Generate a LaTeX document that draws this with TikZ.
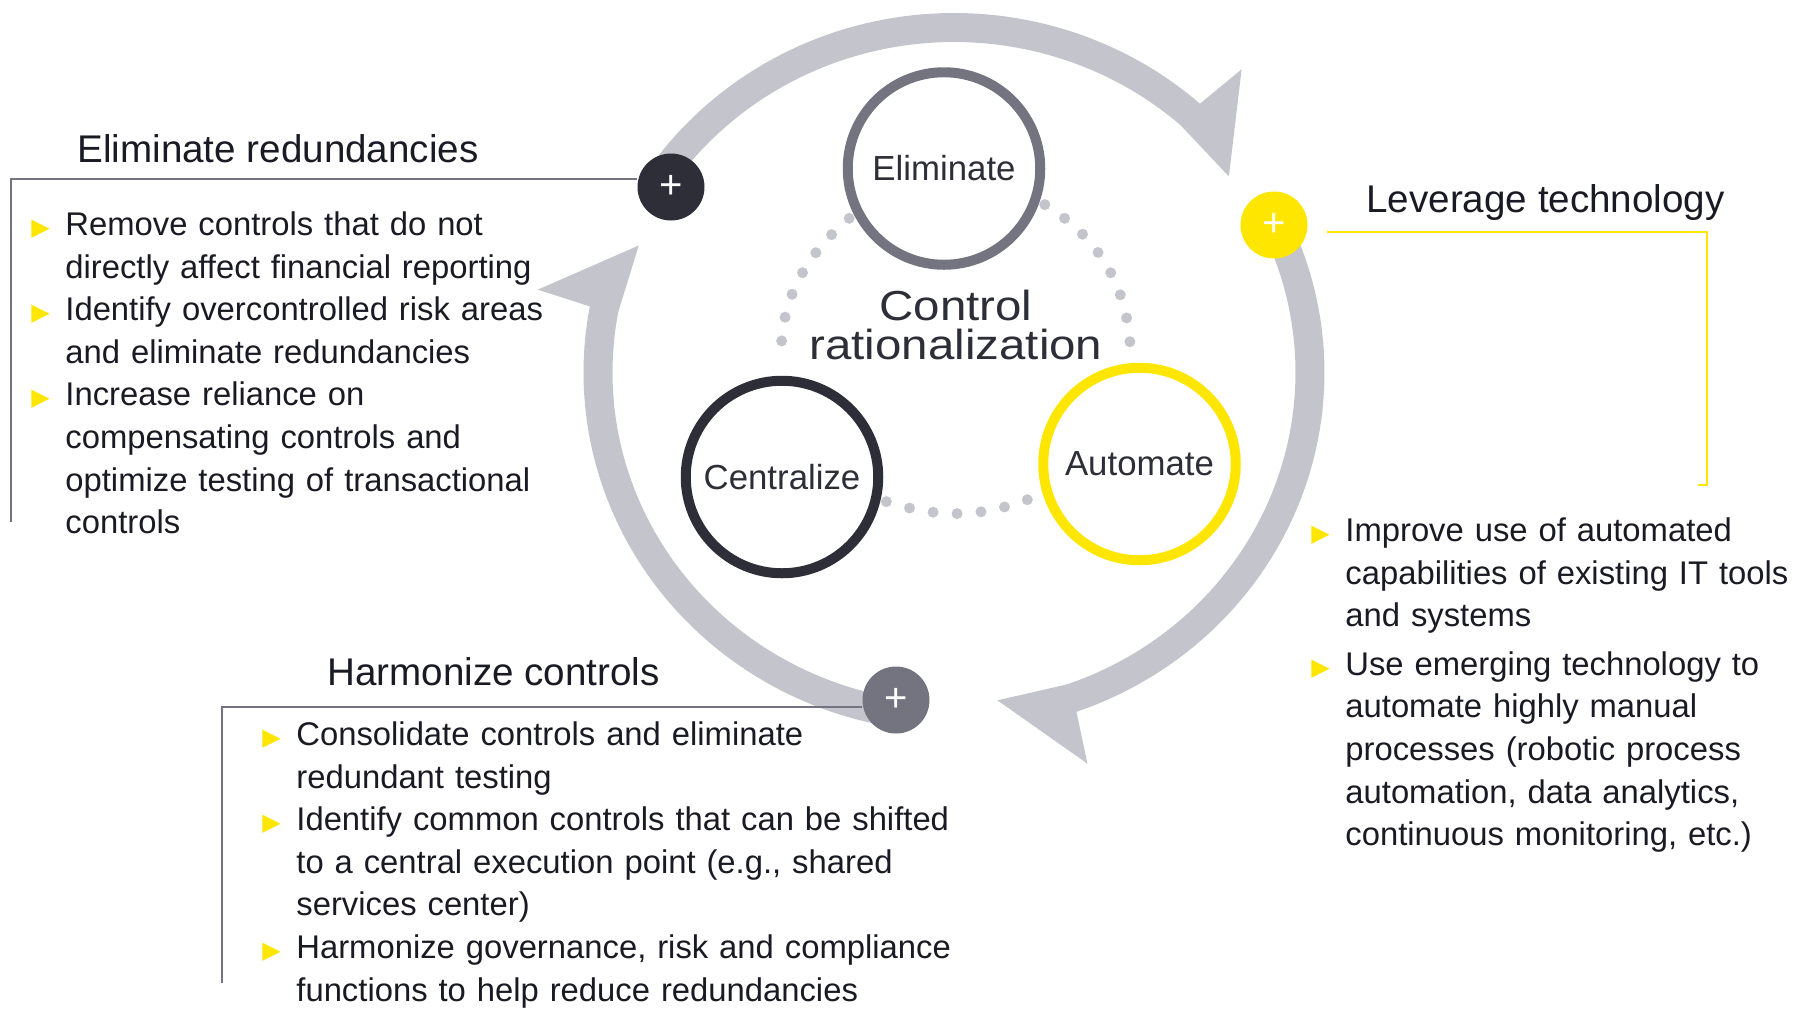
\documentclass[tikz,border=0pt]{standalone}
\usepackage{fontspec}
\setmainfont{Liberation Sans}
\newfontfamily\pilfont{DejaVu Sans}
\newfontfamily\bredfont[FakeStretch=1.13]{Liberation Sans}
\usepackage{tikz}
\definecolor{eymork}{HTML}{2E2E38}
\definecolor{eygraa}{HTML}{747480}
\definecolor{eylys}{HTML}{C4C4CD}
\definecolor{eygul}{HTML}{FFE600}
\definecolor{tekstsort}{HTML}{1A1A24}
\newcommand{\ringpkt}[3]{({954+(#2)*cos(#1)},{372.5+(#3)*sin(#1)})}
\newcommand{\pilhode}[1]{%
  \fill[eylys] \ringpkt{#1}{341.5}{330.5} -- \ringpkt{#1}{370.5}{359.5}
    -- \ringpkt{#1+1}{425}{412} -- \ringpkt{#1+12}{341.5}{330.5} -- cycle ;}
\newcommand{\pkt}{\noindent\hangindent=17pt\hangafter=1%
  \makebox[17pt][l]{\textcolor{eygul}{\pilfont\fontsize{12}{12}\selectfont ▶}}\rule{0pt}{13pt}}

\begin{document}
\begin{tikzpicture}[
    x=0.5pt, y=-0.5pt,
    sirkel/.style = {circle, draw, line width=5pt, minimum size=96.25pt,
      inner sep=0pt, text=eymork, font=\fontsize{17.4}{20}\selectfont},
    pluss/.style = {circle, minimum size=33.5pt, inner sep=0pt, text=white,
      font=\fontsize{20}{20}\selectfont},
    bue/.style = {draw=eylys, line width=14.5pt},
    prikker/.style = {draw=eylys, line width=5.5pt, line cap=round,
      dash pattern=on 0pt off 12pt},
    strek/.style = {line width=0.8pt},
    overskrift/.style = {anchor=base west, inner sep=0pt, text=tekstsort,
      font=\fontsize{19.3}{23}\selectfont},
    liste/.style = {anchor=north west, inner sep=0pt, align=left,
      text=tekstsort, font=\fontsize{16.4}{21.3}\selectfont}
    ]
  \useasboundingbox (0,0) rectangle (1812,1009) ;

  \draw[bue] \ringpkt{216}{356}{345} arc[start angle=216, end angle=312, x radius=356, y radius=345] ;
  \draw[bue] \ringpkt{334.6}{356}{345} arc[start angle=334.6, end angle=431.2, x radius=356, y radius=345] ;
  \draw[bue] \ringpkt{101}{356}{345} arc[start angle=101, end angle=191.1, x radius=356, y radius=345] ;
  \pilhode{311.6}
  \pilhode{430.7}
  \pilhode{190.6}

  \node[sirkel, draw=eygraa] (elim) at (944,168.5) {Eliminate} ;
  \node[sirkel, draw=eymork] (sentr) at (782,477) {Centralize} ;
  \node[sirkel, draw=eygul] (auto) at (1139.5,464) {Automate} ;

  \draw[prikker, shorten <=3pt, shorten >=9pt] (elim.207) to[bend right=26] (sentr.north) ;
  \draw[prikker, shorten <=3pt, shorten >=2pt] (elim.-19) to[bend left=29] (auto.95) ;
  \draw[prikker, shorten <=3pt, shorten >=3pt] (sentr.-13) to[bend right=20] (auto.197) ;

  \node[align=center, anchor=north, inner sep=0pt, text=eymork,
    font=\bredfont\fontsize{21}{19.5}\selectfont] (midt) at (956,290) {Control\\rationalization} ;

  \node[pluss, fill=eymork] (plusE) at (671,187) {+} ;
  \node[pluss, fill=eygul] (plusL) at (1274,225) {+} ;
  \node[pluss, fill=eygraa] (plusH) at (896,700) {+} ;

  \node[overskrift] (hE) at (77,162) {Eliminate redundancies} ;
  \node[overskrift] (hL) at (1366,212) {Leverage technology} ;
  \node[overskrift] (hH) at (327,685) {Harmonize controls} ;

  \node[liste, text width=300pt] (lE) at (31,209) {%
    \pkt Remove controls that do not\newline directly affect financial reporting\par
    \pkt Identify overcontrolled risk areas\newline and eliminate redundancies\par
    \pkt Increase reliance on\newline compensating controls and\newline optimize testing of transactional\newline controls\par} ;
  \node[liste, text width=250pt] (lL) at (1311,515) {\setlength{\parskip}{3pt}%
    \pkt Improve use of automated\newline capabilities of existing IT tools\newline and systems\par
    \pkt Use emerging technology to\newline automate highly manual\newline processes (robotic process\newline automation, data analytics,\newline continuous monitoring, etc.)\par} ;
  \node[liste, text width=360pt] (lH) at (262,719) {%
    \pkt Consolidate controls and eliminate\newline redundant testing\par
    \pkt Identify common controls that can be shifted\newline to a central execution point (e.g., shared\newline services center)\par
    \pkt Harmonize governance, risk and compliance\newline functions to help reduce redundancies\par} ;

  \coordinate (vh) at (11,179) ;
  \coordinate (vb) at (11,522) ;
  \draw[strek, eygraa] (plusE.west |- vh) -- (vh) -- (vb) ;
  \coordinate (hh) at (222,707) ;
  \coordinate (hb) at (222,983) ;
  \draw[strek, eygraa] (plusH.west |- hh) -- (hh) -- (hb) ;
  \coordinate (lh) at (1707,232) ;
  \coordinate (lb) at (1707,485) ;
  \coordinate (le) at (1698,485) ;
  \draw[strek, eygul] ([xshift=9.5pt]plusL.east |- lh) -- (lh) -- (lb) -- (le) ;

\end{tikzpicture}
\end{document}
